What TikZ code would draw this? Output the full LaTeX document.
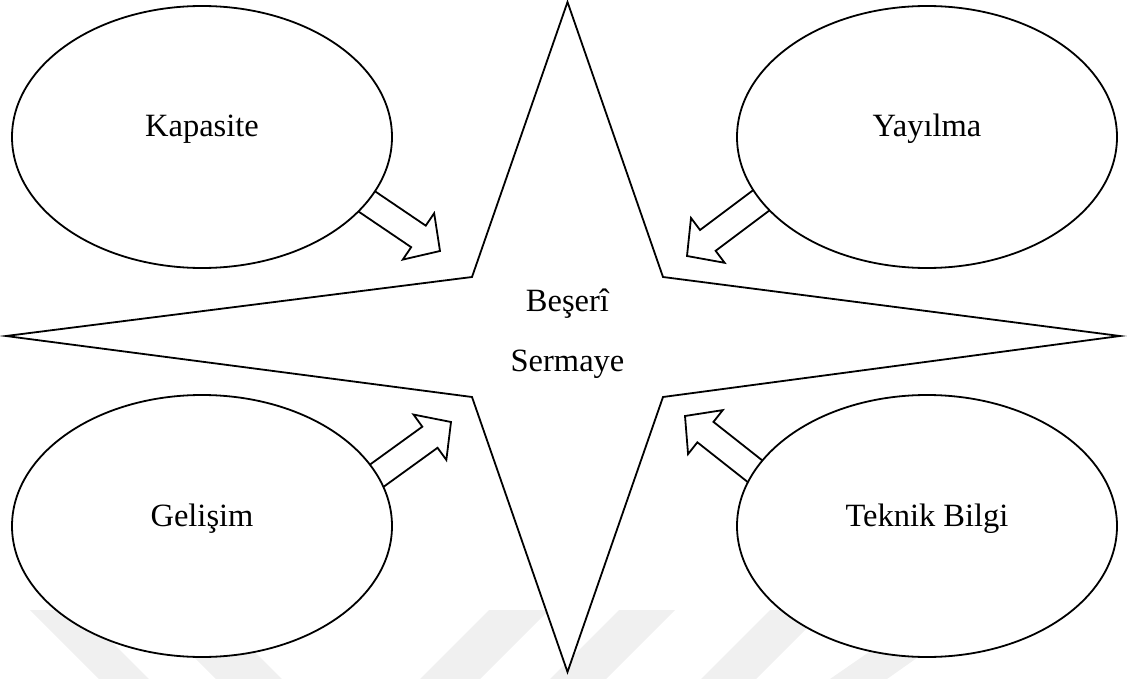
\documentclass[tikz,border=0pt]{standalone}
\usepackage{fontspec}
\setmainfont{Liberation Serif}
\usetikzlibrary{shapes.geometric,calc}

\tikzset{
  bubble/.style={ellipse, draw, line width=1.8pt, fill=white,
                 minimum width=380pt, minimum height=262pt, inner sep=0pt},
  lbl/.style={font=\fontsize{32.5}{39}\selectfont, anchor=base, inner sep=0pt},
  outline/.style={draw, line width=1.8pt, fill=white, line join=miter},
  fatarrow/.style={draw, line width=1.8pt, fill=white, line join=miter},
  stripe/.style={fill=black!6, draw=none}
}

% block arrow from a tail coordinate to a tip coordinate
\newcommand\blockarrow[2]{%
  \coordinate (#2-h) at ($(#2)!26pt!(#1)$);
  \draw[fatarrow]
    ($(#1)!13pt!90:(#2)$) -- ($(#2-h)!13pt!90:(#2)$) -- ($(#2-h)!28pt!90:(#2)$)
    -- (#2)
    -- ($(#2-h)!28pt!-90:(#2)$) -- ($(#2-h)!13pt!-90:(#2)$) -- ($(#1)!13pt!-90:(#2)$)
    -- cycle;
}

\begin{document}
\begin{tikzpicture}[x=1pt, y=-1pt]
  \useasboundingbox (0,0) rectangle (1127,679);

  % faint background stripes along the bottom edge
  \fill[stripe] (30,610) -- (80,610) -- (149,679) -- (99,679) -- cycle;
  \fill[stripe] (147,610) -- (213,610) -- (282,679) -- (216,679) -- cycle;
  \fill[stripe] (489,610) -- (549,610) -- (480,679) -- (420,679) -- cycle;
  \fill[stripe] (619,610) -- (675,610) -- (606,679) -- (550,679) -- cycle;
  \fill[stripe] (770,610) -- (825,610) -- (756,679) -- (701,679) -- cycle;
  \fill[stripe] (930,610) -- (985,610) -- (887,679) -- (830,679) -- cycle;

  % four-pointed star
  \coordinate (core) at (567.5,337);
  \draw[outline] (6,336) -- (472,277) -- (567.5,2) -- (663,277) -- (1120,336)
    -- (663,397) -- (567.5,672) -- (472,397) -- cycle;
  \node[lbl] (c1) at (567.5,311) {Beşerî};
  \node[lbl] (c2) at (567.5,371) {Sermaye};

  % arrows (tails hidden under the ellipses)
  \coordinate (kapTail) at (344,186);  \coordinate (kapTip) at (440,251);
  \coordinate (yayTail) at (779,187);  \coordinate (yayTip) at (687,256);
  \coordinate (gelTail) at (357,490);  \coordinate (gelTip) at (451,422);
  \coordinate (tekTail) at (775,487);  \coordinate (tekTip) at (685,416);
  \blockarrow{kapTail}{kapTip}
  \blockarrow{yayTail}{yayTip}
  \blockarrow{gelTail}{gelTip}
  \blockarrow{tekTail}{tekTip}

  % ellipses
  \node[bubble] (kap) at (202,137) {};
  \node[bubble] (yay) at (927,137) {};
  \node[bubble] (gel) at (202,526) {};
  \node[bubble] (tek) at (927,526) {};

  \node[lbl] (kapL) at (kap.center) {Kapasite};
  \node[lbl] (yayL) at (yay.center) {Yayılma};
  \node[lbl] (gelL) at (gel.center) {Gelişim};
  \node[lbl] (tekL) at (tek.center) {Teknik Bilgi};
\end{tikzpicture}
\end{document}
